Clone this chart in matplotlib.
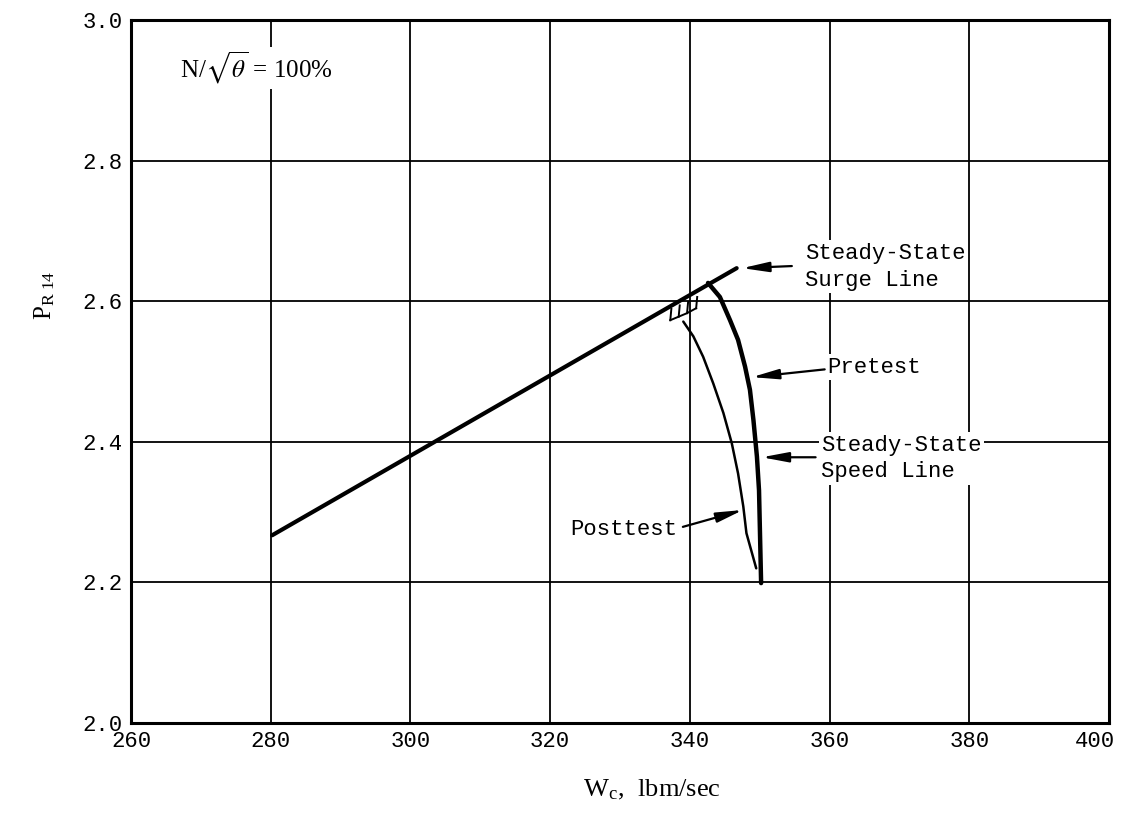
import numpy as np
import matplotlib
matplotlib.use('Agg')
import matplotlib.pyplot as plt
import matplotlib.transforms as mtransforms

plt.rcParams['mathtext.fontset'] = 'stix'

# Datos
surge_wc = [280.2, 346.7]
surge_pr = [2.267, 2.647]

pre_wc = [342.6, 344.3, 345.75, 346.9, 347.9, 348.6, 349.1, 349.6, 349.9, 350.2]
pre_pr = [2.626, 2.606, 2.573, 2.545, 2.507, 2.474, 2.431, 2.379, 2.331, 2.199]

post_wc = [339.06, 340.5, 341.9, 343.35, 344.8, 346.0, 346.9, 347.65, 348.1, 349.5]
post_pr = [2.571, 2.550, 2.521, 2.483, 2.441, 2.398, 2.355, 2.308, 2.270, 2.220]

# marcas de surge (tramado) sobre la curva posttest
hatch_wc = [337.2, 338.4, 339.6, 340.9]
hatch_pr = [2.573, 2.578, 2.583, 2.590]
hatch_h = 0.016

x_ticks = [260, 280, 300, 320, 340, 360, 380, 400]
y_ticks = [2.0, 2.2, 2.4, 2.6, 2.8, 3.0]

mono = 'Liberation Mono'
serif = 'Liberation Serif'

fig = plt.figure(figsize=(11.24, 8.13), dpi=100)
ax = fig.add_axes([131 / 1124, 1 - 723 / 813, 978 / 1124, 703 / 813])

ax.set_xlim(260, 400)
ax.set_ylim(2.0, 3.0)
ax.set_xticks(x_ticks)
ax.set_yticks(y_ticks)
ax.set_xticklabels([str(v) for v in x_ticks], fontfamily=mono, fontsize=16)
ax.set_yticklabels([f'{v:.1f}' for v in y_ticks], fontfamily=mono, fontsize=16)
ax.tick_params(length=0, pad=6)
# la ultima etiqueta se corre para que no se corte
last = ax.get_xticklabels()[-1]
last.set_transform(last.get_transform() +
                   mtransforms.ScaledTranslation(-0.14, 0, fig.dpi_scale_trans))
for s in ax.spines.values():
    s.set_linewidth(2.2)
ax.grid(True, color='black', linewidth=1.3)
ax.set_axisbelow(True)

# curvas
ax.plot(surge_wc, surge_pr, color='black', lw=3.0, solid_capstyle='round', zorder=4)
ax.plot(pre_wc, pre_pr, color='black', lw=3.2, solid_capstyle='round',
        solid_joinstyle='round', zorder=4)
ax.plot(post_wc, post_pr, color='black', lw=1.8, solid_capstyle='round',
        solid_joinstyle='round', zorder=4)

ax.plot(hatch_wc, hatch_pr, color='black', lw=1.4, zorder=4)
for hx, hy in zip(hatch_wc, hatch_pr):
    ax.plot([hx, hx + 0.15], [hy, hy + hatch_h], color='black', lw=1.4, zorder=4)

box = dict(facecolor='white', edgecolor='none', pad=2)
arrow = dict(arrowstyle='-|>,head_length=1.6,head_width=0.3', color='black',
             lw=1.6, shrinkA=0, shrinkB=0)

ax.text(267.0, 2.932, r'N/$\sqrt{\theta}$ = 100%', fontfamily=serif, fontsize=18,
        va='center', ha='left', bbox=box, zorder=3)

ax.annotate('', xy=(347.5, 2.647), xytext=(354.6, 2.650), arrowprops=arrow, zorder=5)
ax.text(356.5, 2.649, 'Steady-State\nSurge Line', fontfamily=mono, fontsize=16,
        va='center', ha='left', linespacing=1.35, bbox=box, zorder=3)

ax.annotate('', xy=(348.9, 2.492), xytext=(359.3, 2.503), arrowprops=arrow, zorder=5)
ax.text(359.6, 2.506, 'Pretest', fontfamily=mono, fontsize=16,
        va='center', ha='left', bbox=box, zorder=3)

ax.annotate('', xy=(350.3, 2.378), xytext=(358.0, 2.378), arrowprops=arrow, zorder=5)
ax.text(358.8, 2.376, 'Steady-State\nSpeed Line', fontfamily=mono, fontsize=16,
        va='center', ha='left', linespacing=1.35, bbox=box, zorder=3)

ax.annotate('', xy=(347.6, 2.303), xytext=(339.0, 2.279), arrowprops=arrow, zorder=5)
ax.text(338.2, 2.275, 'Posttest', fontfamily=mono, fontsize=16,
        va='center', ha='right', bbox=box, zorder=3)

fig.text(45 / 1124, 1 - 295 / 813, r'P$_{\mathregular{R\ 14}}$', rotation=90,
         fontfamily=serif, fontsize=18, ha='center', va='center')
fig.text(652 / 1124, 1 - 790 / 813, r'W$_{\mathregular{c}}$,  lbm/sec',
         fontfamily=serif, fontsize=19, ha='center', va='center')

fig.savefig('out.png', dpi=100)
